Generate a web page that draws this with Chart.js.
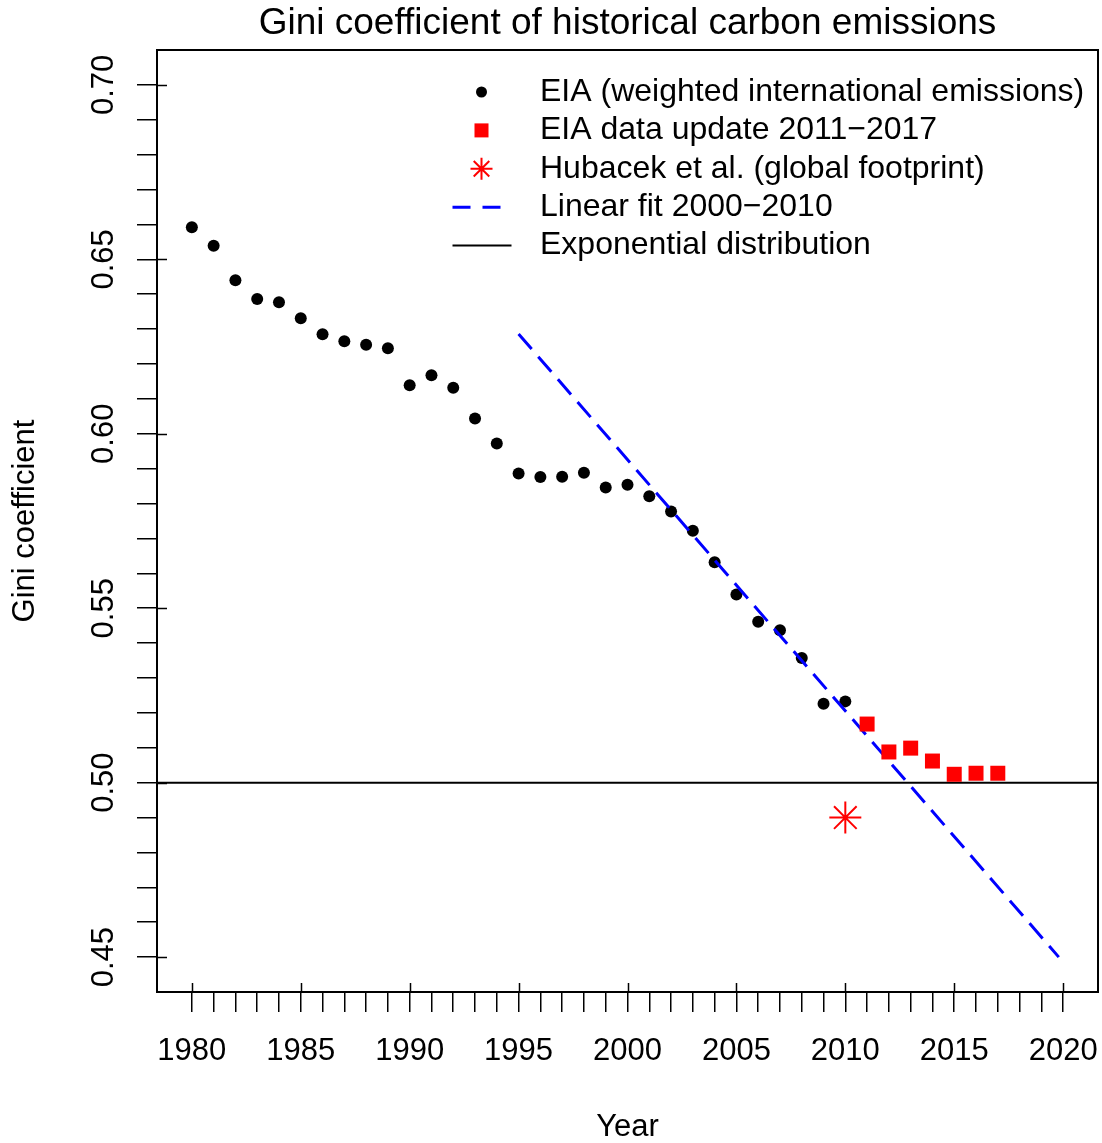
<!DOCTYPE html>
<html>
<head>
<meta charset="utf-8">
<script src="https://cdn.jsdelivr.net/npm/chart.js@4.4.0/dist/chart.umd.min.js"></script>
<style>
html,body{margin:0;padding:0;background:#ffffff;}
#wrap{width:1102px;height:1143px;position:relative;}
</style>
</head>
<body>
<div id="wrap"><canvas id="c" width="1102" height="1143"></canvas></div>
<script>
// ---------------- data ----------------
const eiaYears = [1980,1981,1982,1983,1984,1985,1986,1987,1988,1989,1990,1991,1992,1993,1994,1995,1996,1997,1998,1999,2000,2001,2002,2003,2004,2005,2006,2007,2008,2009,2010];
const eiaGini  = [0.6592,0.6539,0.6440,0.6386,0.6377,0.6331,0.6285,0.6265,0.6255,0.6245,0.6139,0.6168,0.6132,0.6044,0.5972,0.5886,0.5876,0.5877,0.5888,0.5846,0.5854,0.5821,0.5777,0.5722,0.5632,0.5539,0.5461,0.5437,0.5357,0.5226,0.5233];
const updateYears = [2011,2012,2013,2014,2015,2016,2017];
const updateGini  = [0.5168,0.5088,0.5099,0.5062,0.5024,0.5027,0.5027];
const hubacekYears = [2010];
const hubacekGini  = [0.4900];
const fitYears = [1995,2019.8];
const fitGini  = [0.6286,0.4500];
const expGini = 0.5;

const xLimits = [1978.4, 2021.6];
const yLimits = [0.44, 0.71];
const xTickYears = [1980,1981,1982,1983,1984,1985,1986,1987,1988,1989,1990,1991,1992,1993,1994,1995,1996,1997,1998,1999,2000,2001,2002,2003,2004,2005,2006,2007,2008,2009,2010,2011,2012,2013,2014,2015,2016,2017,2018,2019,2020];
const xTickLabels = ['1980','1985','1990','1995','2000','2005','2010','2015','2020'];
const yTickValues = [0.45,0.46,0.47,0.48,0.49,0.50,0.51,0.52,0.53,0.54,0.55,0.56,0.57,0.58,0.59,0.60,0.61,0.62,0.63,0.64,0.65,0.66,0.67,0.68,0.69,0.70];
const yTickLabels = ['0.45','0.50','0.55','0.60','0.65','0.70'];

const legendLabels = [
  'EIA (weighted international emissions)',
  'EIA data update 2011\u22122017',
  'Hubacek et al. (global footprint)',
  'Linear fit 2000\u22122010',
  'Exponential distribution'
];
const chartTitle = 'Gini coefficient of historical carbon emissions';
const xTitle = 'Year';
const yTitle = 'Gini coefficient';

// ---------------- setup ----------------
const FONT = "'Liberation Sans', Arial, Helvetica, sans-serif";
Chart.defaults.font.family = FONT;
Chart.defaults.color = '#000';

const pts = (xs, ys) => xs.map((x, i) => ({x: x, y: ys[i]}));

const frameLegendPlugin = {
  id: 'frameLegend',
  afterDraw(chart) {
    const {ctx, chartArea: a, scales} = chart;
    const xs = scales.x, ys = scales.y;
    ctx.save();
    // plot box
    ctx.strokeStyle = '#000';
    ctx.lineWidth = 2;
    ctx.strokeRect(a.left, a.top, a.right - a.left, a.bottom - a.top);
    // major ticks poke into the box
    ctx.lineWidth = 1.5;
    ctx.beginPath();
    xTickLabels.forEach(l => {
      const px = Math.round(xs.getPixelForValue(Number(l))) + 0.5;
      ctx.moveTo(px, a.bottom); ctx.lineTo(px, a.bottom - 9);
    });
    yTickLabels.forEach(l => {
      const py = Math.round(ys.getPixelForValue(Number(l))) + 0.5;
      ctx.moveTo(a.left, py); ctx.lineTo(a.left + 10, py);
    });
    ctx.stroke();

    // legend
    const symX = a.left + 324.5;
    const textX = a.left + 383;
    const rowY0 = a.top + 42;
    const rowH = 38.4;
    ctx.font = '32px ' + FONT;
    ctx.textBaseline = 'middle';
    ctx.textAlign = 'left';
    legendLabels.forEach((lab, i) => {
      const cy = rowY0 + i * rowH;
      ctx.fillStyle = '#000';
      ctx.fillText(lab, textX, cy);
      if (i === 0) {
        ctx.beginPath(); ctx.arc(symX, cy, 5.5, 0, Math.PI * 2); ctx.fillStyle = '#000'; ctx.fill();
      } else if (i === 1) {
        ctx.fillStyle = '#FF0000'; ctx.fillRect(symX - 7, cy - 7, 14, 14);
      } else if (i === 2) {
        ctx.strokeStyle = '#FF0000'; ctx.lineWidth = 2;
        ctx.beginPath();
        const r = 11, d = r * Math.SQRT1_2;
        ctx.moveTo(symX - r, cy); ctx.lineTo(symX + r, cy);
        ctx.moveTo(symX, cy - r); ctx.lineTo(symX, cy + r);
        ctx.moveTo(symX - d, cy - d); ctx.lineTo(symX + d, cy + d);
        ctx.moveTo(symX - d, cy + d); ctx.lineTo(symX + d, cy - d);
        ctx.stroke();
      } else if (i === 3) {
        ctx.strokeStyle = '#0000FF'; ctx.lineWidth = 3; ctx.lineCap = 'butt';
        ctx.setLineDash([18, 12]);
        ctx.beginPath(); ctx.moveTo(symX - 29, cy); ctx.lineTo(symX + 30, cy); ctx.stroke();
        ctx.setLineDash([]);
      } else {
        ctx.strokeStyle = '#000'; ctx.lineWidth = 2;
        ctx.beginPath(); ctx.moveTo(symX - 29, cy); ctx.lineTo(symX + 30, cy); ctx.stroke();
      }
    });
    ctx.restore();
  }
};

new Chart(document.getElementById('c'), {
  type: 'scatter',
  data: {
    datasets: [
      {
        label: legendLabels[0],
        data: pts(eiaYears, eiaGini),
        showLine: false,
        pointStyle: 'circle',
        pointRadius: 6,
        pointBackgroundColor: '#000',
        pointBorderColor: '#000',
        pointBorderWidth: 0,
        order: 5
      },
      {
        label: legendLabels[3],
        data: pts(fitYears, fitGini),
        showLine: true,
        pointRadius: 0,
        borderColor: '#0000FF',
        borderWidth: 3,
        borderDash: [20, 10],
        borderCapStyle: 'butt',
        fill: false,
        order: 4
      },
      {
        label: legendLabels[4],
        data: pts(xLimits, [expGini, expGini]),
        showLine: true,
        pointRadius: 0,
        borderColor: '#000',
        borderWidth: 2,
        fill: false,
        order: 3
      },
      {
        label: legendLabels[1],
        data: pts(updateYears, updateGini),
        showLine: false,
        pointStyle: 'rect',
        pointRadius: 10.6,
        pointBackgroundColor: '#FF0000',
        pointBorderColor: '#FF0000',
        pointBorderWidth: 0,
        order: 2
      },
      {
        label: legendLabels[2],
        data: pts(hubacekYears, hubacekGini),
        showLine: false,
        pointStyle: 'star',
        pointRadius: 16,
        pointBackgroundColor: '#FF0000',
        pointBorderColor: '#FF0000',
        pointBorderWidth: 2,
        order: 1
      }
    ]
  },
  options: {
    responsive: false,
    animation: false,
    events: [],
    devicePixelRatio: 1,
    layout: { autoPadding: false, padding: { left: 0, right: 4, top: 0, bottom: 0 } },
    plugins: {
      legend: { display: false },
      tooltip: { enabled: false },
      title: {
        display: true,
        fullSize: false,
        text: chartTitle,
        color: '#000',
        font: { size: 37, weight: 'normal', lineHeight: 1 },
        padding: { top: 5.5, bottom: 7.5 }
      }
    },
    scales: {
      x: {
        type: 'linear',
        position: 'bottom',
        min: xLimits[0],
        max: xLimits[1],
        afterBuildTicks: s => { s.ticks = xTickYears.map(v => ({ value: v })); },
        ticks: {
          autoSkip: false, minRotation: 0, maxRotation: 0,
          padding: 0,
          font: { size: 31, lineHeight: 2.56 },
          color: '#000',
          callback: v => (xTickLabels.indexOf(String(v)) >= 0 ? String(v) : '')
        },
        grid: { display: true, drawOnChartArea: false, drawTicks: true, tickLength: 20, color: '#000', lineWidth: 1.5 },
        border: { display: true, color: '#000', width: 2 },
        title: { display: true, text: xTitle, color: '#000', font: { size: 31, lineHeight: 1 }, padding: { top: 0, bottom: 0 } },
        afterFit: s => { s.height = 151; s.paddingLeft = 0; s.paddingRight = 0; }
      },
      y: {
        type: 'linear',
        position: 'left',
        min: yLimits[0],
        max: yLimits[1],
        afterBuildTicks: s => { s.ticks = yTickValues.map(v => ({ value: v })); },
        ticks: {
          autoSkip: false, minRotation: 90, maxRotation: 90,
          crossAlign: 'center',
          padding: 2,
          font: { size: 31 },
          color: '#000',
          callback: v => { const t = Number(v).toFixed(2); return yTickLabels.indexOf(t) >= 0 ? t : ''; }
        },
        grid: { display: true, drawOnChartArea: false, drawTicks: true, tickLength: 20, color: '#000', lineWidth: 1.5 },
        border: { display: true, color: '#000', width: 2 },
        title: { display: true, text: yTitle, color: '#000', font: { size: 31, lineHeight: 1 }, padding: { top: 9.5, bottom: 0 } },
        afterFit: s => { s.width = 157; s.paddingTop = 0; s.paddingBottom = 0; }
      }
    }
  },
  plugins: [frameLegendPlugin]
});
</script>
</body>
</html>
